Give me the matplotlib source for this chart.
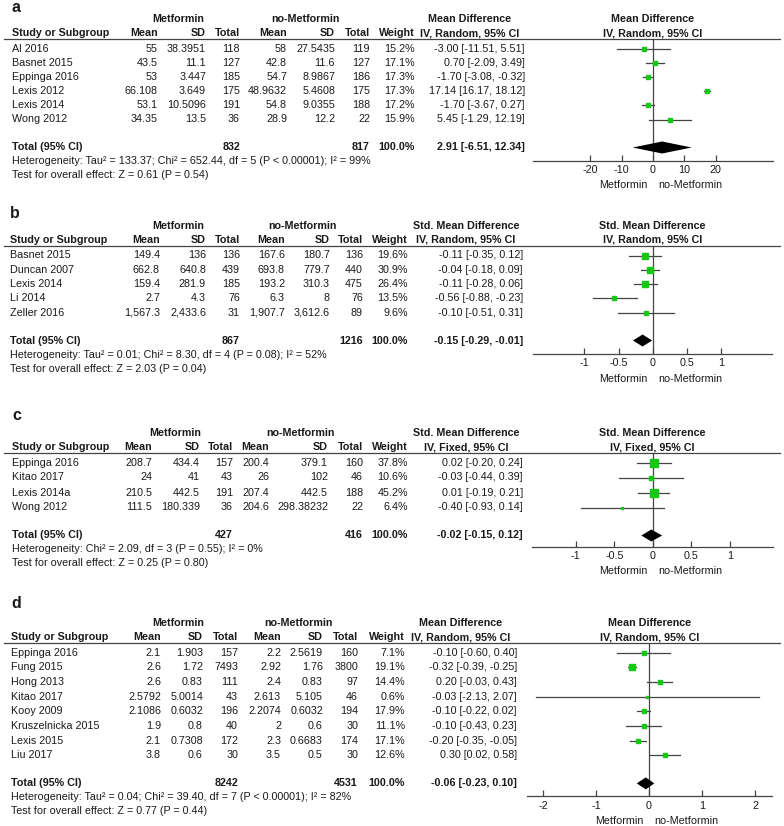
import matplotlib
matplotlib.use("Agg")
import matplotlib.pyplot as plt

plt.rcParams['font.family'] = ['Liberation Sans', 'DejaVu Sans']

# --- Panel a: Mean Difference, IV random ---
a_study    = ["Al 2016", "Basnet 2015", "Eppinga 2016", "Lexis 2012", "Lexis 2014", "Wong 2012"]
a_met_mean = ["55", "43.5", "53", "66.108", "53.1", "34.35"]
a_met_sd   = ["38.3951", "11.1", "3.447", "3.649", "10.5096", "13.5"]
a_met_n    = [118, 127, 185, 175, 191, 36]
a_ctl_mean = ["58", "42.8", "54.7", "48.9632", "54.8", "28.9"]
a_ctl_sd   = ["27.5435", "11.6", "8.9867", "5.4608", "9.0355", "12.2"]
a_ctl_n    = [119, 127, 186, 175, 188, 22]
a_weight   = [15.2, 17.1, 17.3, 17.3, 17.2, 15.9]
a_est      = [-3.00, 0.70, -1.70, 17.14, -1.70, 5.45]
a_lo       = [-11.51, -2.09, -3.08, 16.17, -3.67, -1.29]
a_hi       = [5.51, 3.49, -0.32, 18.12, 0.27, 12.19]
a_total    = (832, 817, 2.91, -6.51, 12.34)
a_het      = "Heterogeneity: Tau² = 133.37; Chi² = 652.44, df = 5 (P < 0.00001); I² = 99%"
a_test     = "Test for overall effect: Z = 0.61 (P = 0.54)"

# --- Panel b: Std. Mean Difference, IV random ---
b_study    = ["Basnet 2015", "Duncan 2007", "Lexis 2014", "Li 2014", "Zeller 2016"]
b_met_mean = ["149.4", "662.8", "159.4", "2.7", "1,567.3"]
b_met_sd   = ["136", "640.8", "281.9", "4.3", "2,433.6"]
b_met_n    = [136, 439, 185, 76, 31]
b_ctl_mean = ["167.6", "693.8", "193.2", "6.3", "1,907.7"]
b_ctl_sd   = ["180.7", "779.7", "310.3", "8", "3,612.6"]
b_ctl_n    = [136, 440, 475, 76, 89]
b_weight   = [19.6, 30.9, 26.4, 13.5, 9.6]
b_est      = [-0.11, -0.04, -0.11, -0.56, -0.10]
b_lo       = [-0.35, -0.18, -0.28, -0.88, -0.51]
b_hi       = [0.12, 0.09, 0.06, -0.23, 0.31]
b_total    = (867, 1216, -0.15, -0.29, -0.01)
b_het      = "Heterogeneity: Tau² = 0.01; Chi² = 8.30, df = 4 (P = 0.08); I² = 52%"
b_test     = "Test for overall effect: Z = 2.03 (P = 0.04)"

# --- Panel c: Std. Mean Difference, IV fixed ---
c_study    = ["Eppinga 2016", "Kitao 2017", "Lexis 2014a", "Wong 2012"]
c_met_mean = ["208.7", "24", "210.5", "111.5"]
c_met_sd   = ["434.4", "41", "442.5", "180.339"]
c_met_n    = [157, 43, 191, 36]
c_ctl_mean = ["200.4", "26", "207.4", "204.6"]
c_ctl_sd   = ["379.1", "102", "442.5", "298.38232"]
c_ctl_n    = [160, 46, 188, 22]
c_weight   = [37.8, 10.6, 45.2, 6.4]
c_est      = [0.02, -0.03, 0.01, -0.40]
c_lo       = [-0.20, -0.44, -0.19, -0.93]
c_hi       = [0.24, 0.39, 0.21, 0.14]
c_total    = (427, 416, -0.02, -0.15, 0.12)
c_het      = "Heterogeneity: Chi² = 2.09, df = 3 (P = 0.55); I² = 0%"
c_test     = "Test for overall effect: Z = 0.25 (P = 0.80)"

# --- Panel d: Mean Difference, IV random ---
d_study    = ["Eppinga 2016", "Fung 2015", "Hong 2013", "Kitao 2017", "Kooy 2009",
              "Kruszelnicka 2015", "Lexis 2015", "Liu 2017"]
d_met_mean = ["2.1", "2.6", "2.6", "2.5792", "2.1086", "1.9", "2.1", "3.8"]
d_met_sd   = ["1.903", "1.72", "0.83", "5.0014", "0.6032", "0.8", "0.7308", "0.6"]
d_met_n    = [157, 7493, 111, 43, 196, 40, 172, 30]
d_ctl_mean = ["2.2", "2.92", "2.4", "2.613", "2.2074", "2", "2.3", "3.5"]
d_ctl_sd   = ["2.5619", "1.76", "0.83", "5.105", "0.6032", "0.6", "0.6683", "0.5"]
d_ctl_n    = [160, 3800, 97, 46, 194, 30, 174, 30]
d_weight   = [7.1, 19.1, 14.4, 0.6, 17.9, 11.1, 17.1, 12.6]
d_est      = [-0.10, -0.32, 0.20, -0.03, -0.10, -0.10, -0.20, 0.30]
d_lo       = [-0.60, -0.39, -0.03, -2.13, -0.22, -0.43, -0.35, 0.02]
d_hi       = [0.40, -0.25, 0.43, 2.07, 0.02, 0.23, -0.05, 0.58]
d_total    = (8242, 4531, -0.06, -0.23, 0.10)
d_het      = "Heterogeneity: Tau² = 0.04; Chi² = 39.40, df = 7 (P < 0.00001); I² = 82%"
d_test     = "Test for overall effect: Z = 0.77 (P = 0.44)"

# --- Layout (pixels on a 784x826 canvas) ---
W, H = 784, 826
FS = 7.75
TXT = "#1a1a1a"
LINE = "#444444"
GREEN = "#14c814"

panels = [
    dict(label="a", label_y=8, top=19, step=14.2, axis_off=13,
         cols=[12, 158, 206, 240, 287, 335, 370, 415, 525], ci_head=470,
         grp=[178, 305], px=(533, 773), xlim=(-38.3, 38.3), ticks=[-20, -10, 0, 10, 20],
         measure="Mean Difference", method="IV, Random, 95% CI",
         study=a_study, mm=a_met_mean, ms=a_met_sd, mn=a_met_n,
         cm=a_ctl_mean, cs=a_ctl_sd, cn=a_ctl_n, w=a_weight,
         est=a_est, lo=a_lo, hi=a_hi, total=a_total, het=a_het, test=a_test),
    dict(label="b", label_y=214, top=226, step=14.25, axis_off=13,
         cols=[10, 160, 206, 240, 285, 330, 363, 408, 523], ci_head=466,
         grp=[178, 302], px=(533, 772), xlim=(-1.75, 1.74), ticks=[-1, -0.5, 0, 0.5, 1],
         measure="Std. Mean Difference", method="IV, Random, 95% CI",
         study=b_study, mm=b_met_mean, ms=b_met_sd, mn=b_met_n,
         cm=b_ctl_mean, cs=b_ctl_sd, cn=b_ctl_n, w=b_weight,
         est=b_est, lo=b_lo, hi=b_hi, total=b_total, het=b_het, test=b_test),
    dict(label="c", label_y=415, top=433, step=15.0, axis_off=11,
         cols=[12, 152, 200, 233, 269, 328, 363, 408, 523], ci_head=466,
         grp=[175, 300], px=(532, 773), xlim=(-1.57, 1.56), ticks=[-1, -0.5, 0, 0.5, 1],
         measure="Std. Mean Difference", method="IV, Fixed, 95% CI",
         study=c_study, mm=c_met_mean, ms=c_met_sd, mn=c_met_n,
         cm=c_ctl_mean, cs=c_ctl_sd, cn=c_ctl_n, w=c_weight,
         est=c_est, lo=c_lo, hi=c_hi, total=c_total, het=c_het, test=c_test),
    dict(label="d", label_y=603, top=623, step=14.7, axis_off=13,
         cols=[11, 161, 203, 238, 281, 323, 358, 405, 517], ci_head=461,
         grp=[178, 298], px=(527, 772), xlim=(-2.3, 2.32), ticks=[-2, -1, 0, 1, 2],
         measure="Mean Difference", method="IV, Random, 95% CI",
         study=d_study, mm=d_met_mean, ms=d_met_sd, mn=d_met_n,
         cm=d_ctl_mean, cs=d_ctl_sd, cn=d_ctl_n, w=d_weight,
         est=d_est, lo=d_lo, hi=d_hi, total=d_total, het=d_het, test=d_test),
]


def fmt_tick(v):
    return f"{v:g}"


def draw_panel(fig, bg, p):
    c = p["cols"]
    top = p["top"]
    head_y = top + 14
    line_y = top + 19.5
    row0 = top + 29.5
    rows = [row0 + i * p["step"] for i in range(len(p["study"]))]
    total_y = rows[-1] + 28
    axis_y = total_y + p["axis_off"]
    x0, x1 = p["px"]

    def t(x, y, s, ha="right", bold=False, size=FS):
        bg.text(x, y, s, ha=ha, va="center", fontsize=size, color=TXT,
                fontweight="bold" if bold else "normal")

    # panel letter
    t(c[0], p["label_y"], p["label"], ha="left", bold=True, size=11.5)

    # group headers
    t(p["grp"][0], top, "Metformin", ha="center", bold=True)
    t(p["grp"][1], top, "no-Metformin", ha="center", bold=True)
    t(p["ci_head"], top, p["measure"], ha="center", bold=True)
    t((x0 + x1) / 2, top, p["measure"], ha="center", bold=True)

    # column headers
    t(c[0], head_y, "Study or Subgroup", ha="left", bold=True)
    for x, s in zip(c[1:8], ["Mean", "SD", "Total", "Mean", "SD", "Total", "Weight"]):
        t(x, head_y, s, bold=True)
    t(p["ci_head"], head_y, p["method"], ha="center", bold=True)
    t((x0 + x1) / 2, head_y, p["method"], ha="center", bold=True)
    bg.plot([4, 780], [line_y, line_y], color=LINE, lw=0.9)

    # study rows
    for i, y in enumerate(rows):
        t(c[0], y, p["study"][i], ha="left")
        vals = [p["mm"][i], p["ms"][i], str(p["mn"][i]),
                p["cm"][i], p["cs"][i], str(p["cn"][i]), f"{p['w'][i]:.1f}%",
                f"{p['est'][i]:.2f} [{p['lo'][i]:.2f}, {p['hi'][i]:.2f}]"]
        for x, s in zip(c[1:], vals):
            t(x, y, s)

    # total row
    n1, n2, te, tl, th = p["total"]
    t(c[0], total_y, "Total (95% CI)", ha="left", bold=True)
    t(c[3], total_y, str(n1), bold=True)
    t(c[6], total_y, str(n2), bold=True)
    t(c[7], total_y, "100.0%", bold=True)
    t(c[8], total_y, f"{te:.2f} [{tl:.2f}, {th:.2f}]", bold=True)
    t(c[0], total_y + 14, p["het"], ha="left")
    t(c[0], total_y + 28, p["test"], ha="left")

    # forest plot axes, y in canvas pixels
    ax = fig.add_axes([x0 / W, 1 - axis_y / H, (x1 - x0) / W, (axis_y - line_y) / H])
    ax.set_xlim(*p["xlim"])
    ax.set_ylim(axis_y, line_y)
    ax.patch.set_alpha(0)
    for s in ["top", "left", "right"]:
        ax.spines[s].set_visible(False)
    ax.spines["bottom"].set_color(LINE)
    ax.spines["bottom"].set_linewidth(0.9)
    ax.set_yticks([])
    ax.set_xticks(p["ticks"])
    ax.set_xticklabels([fmt_tick(v) for v in p["ticks"]])
    ax.tick_params(axis="x", direction="in", length=4, width=0.9, color=LINE,
                   labelsize=FS, labelcolor=TXT, pad=3)
    ax.axvline(0, color=LINE, lw=0.9)

    for i, y in enumerate(rows):
        ax.plot([p["lo"][i], p["hi"][i]], [y, y], color=LINE, lw=0.9, zorder=2)
        size = max(1.5, 0.85 * p["w"][i] ** 0.5)
        ax.plot(p["est"][i], y, marker="s", ms=size, color=GREEN, mec=GREEN, zorder=3)

    h = 6
    ax.fill([tl, te, th, te], [total_y, total_y - h, total_y, total_y + h],
            color="black", lw=0, zorder=3, clip_on=False)

    # favours labels
    dx = 5 * (p["xlim"][1] - p["xlim"][0]) / (x1 - x0)
    ax.text(-dx, axis_y + 25, "Metformin", ha="right", va="center",
            fontsize=FS, color=TXT, clip_on=False)
    ax.text(dx, axis_y + 25, "no-Metformin", ha="left", va="center",
            fontsize=FS, color=TXT, clip_on=False)


fig = plt.figure(figsize=(W / 100, H / 100), dpi=100)
bg = fig.add_axes([0, 0, 1, 1])
bg.set_xlim(0, W)
bg.set_ylim(H, 0)
bg.axis("off")

for p in panels:
    draw_panel(fig, bg, p)

fig.savefig("out.png", dpi=100, facecolor="white")
